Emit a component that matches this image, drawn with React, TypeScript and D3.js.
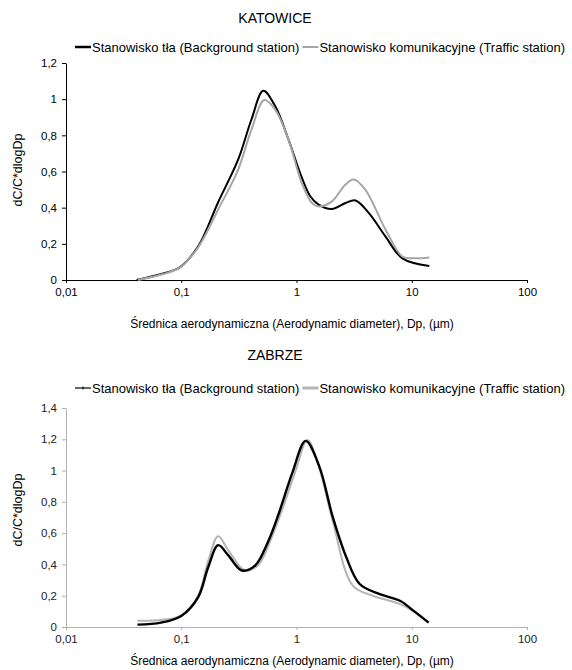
import { useEffect, useRef } from 'react';
import * as d3 from 'd3';

// Katowice – background station (black)
const katBgDp = [0.041, 0.067, 0.097, 0.14, 0.209, 0.312, 0.407, 0.515, 0.651, 0.851, 1.077, 1.316, 1.555, 2.03, 2.66, 3.25, 4.25, 5.93, 8.29, 14.2];
const katBgVal = [0, 0.033, 0.07, 0.185, 0.43, 0.667, 0.889, 1.046, 0.963, 0.778, 0.59, 0.463, 0.417, 0.393, 0.426, 0.44, 0.37, 0.24, 0.12, 0.078];
// Katowice – traffic station (grey)
const katTrDp = [0.042, 0.067, 0.097, 0.14, 0.209, 0.312, 0.407, 0.525, 0.651, 0.851, 1.11, 1.36, 1.555, 2.03, 2.66, 3.14, 3.95, 5.93, 8.29, 10.1, 14.2];
const katTrVal = [0, 0.03, 0.068, 0.18, 0.39, 0.611, 0.833, 0.995, 0.944, 0.778, 0.537, 0.426, 0.407, 0.435, 0.528, 0.556, 0.5, 0.278, 0.13, 0.12, 0.125];

// Zabrze – background station (black)
const zabBgDp = [0.0417, 0.0668, 0.1, 0.14, 0.171, 0.209, 0.256, 0.336, 0.439, 0.574, 0.703, 0.92, 1.2, 1.57, 2.06, 2.7, 3.53, 5.28, 7.91, 10.4, 14.0];
const zabBgVal = [0.015, 0.028, 0.071, 0.19, 0.38, 0.523, 0.458, 0.361, 0.394, 0.555, 0.727, 0.985, 1.19, 1.03, 0.705, 0.447, 0.275, 0.21, 0.168, 0.103, 0.028];
// Zabrze – traffic station (grey)
const zabTrDp = [0.0417, 0.0668, 0.1, 0.14, 0.171, 0.209, 0.256, 0.359, 0.47, 0.614, 0.751, 0.984, 1.245, 1.57, 2.06, 3.08, 4.61, 7.91, 10.4, 14.0];
const zabTrVal = [0.04, 0.045, 0.075, 0.2, 0.42, 0.58, 0.49, 0.361, 0.4, 0.58, 0.75, 1.0, 1.195, 1.02, 0.68, 0.265, 0.2, 0.146, 0.1, 0.028];

const xTicks = [0.01, 0.1, 1, 10, 100];
const xTickLabels = ['0,01', '0,1', '1', '10', '100'];
const legendLabels = ['Stanowisko tła (Background station)', 'Stanowisko komunikacyjne (Traffic station)'];
const xTitle = 'Średnica aerodynamiczna (Aerodynamic diameter), Dp, (\u00b5m)';
const yTitle = 'dC/C*dlogDp';

const font = 'Liberation Sans, Arial, sans-serif';

type Panel = {
  title: string;
  titleY: number;
  legendY: number;
  top: number; // y of top tick
  bottom: number; // y of zero line
  xTitleY: number;
  yTitleY: number;
  yMax: number;
  axisColor: string;
  tickTextColor: string;
  bg: [number[], number[]];
  tr: [number[], number[]];
  bgWidth: number;
  trColor: string;
  trWidth: number;
  marker: boolean;
};

const panels: Panel[] = [
  { title: 'KATOWICE', titleY: 23, legendY: 47, top: 63, bottom: 280, xTitleY: 328, yTitleY: 170, yMax: 1.2, axisColor: '#000', tickTextColor: '#000',
    bg: [katBgDp, katBgVal], tr: [katTrDp, katTrVal], bgWidth: 2, trColor: '#a6a6a6', trWidth: 2, marker: false },
  { title: 'ZABRZE', titleY: 360, legendY: 388, top: 408, bottom: 627, xTitleY: 665, yTitleY: 510, yMax: 1.4, axisColor: '#b0b0b0', tickTextColor: '#222',
    bg: [zabBgDp, zabBgVal], tr: [zabTrDp, zabTrVal], bgWidth: 2.4, trColor: '#b4b4b4', trWidth: 2, marker: true },
];

function App() {
  const svgRef = useRef<SVGSVGElement>(null);

  useEffect(() => {
    const svg = d3.select(svgRef.current);
    svg.selectAll('*').remove();
    const left = 66, right = 527;
    const x = d3.scaleLog().domain([0.01, 100]).range([left, right]);

    panels.forEach((p, pi) => {
      const y = d3.scaleLinear().domain([0, p.yMax]).range([p.bottom, p.top]);
      const g = svg.append('g').attr('font-family', font);

      // title
      g.append('text').attr('x', 275).attr('y', p.titleY)
        .attr('text-anchor', 'middle').attr('font-size', 14).text(p.title);

      // legend
      const ly = p.legendY;
      g.append('line').attr('x1', 75).attr('x2', 91).attr('y1', ly).attr('y2', ly)
        .attr('stroke', '#000').attr('stroke-width', p.marker ? 1.2 : 2.5);
      if (p.marker) {
        g.append('line').attr('x1', 83).attr('x2', 83).attr('y1', ly - 1.5).attr('y2', ly + 1.5).attr('stroke', '#000');
      }
      const t1 = g.append('text').attr('x', 92).attr('y', ly + 4.5).attr('font-size', 13).text(legendLabels[0]);
      const w1 = (t1.node() as SVGTextElement).getComputedTextLength();
      const lx = 92 + w1 + 3;
      g.append('line').attr('x1', lx).attr('x2', lx + 16).attr('y1', ly).attr('y2', ly)
        .attr('stroke', p.trColor).attr('stroke-width', p.marker ? 3 : 2);
      g.append('text').attr('x', lx + 17).attr('y', ly + 4.5).attr('font-size', 13).text(legendLabels[1]);

      // y axis
      const yAxis = d3.axisLeft(y).tickValues(d3.range(0, p.yMax + 0.001, 0.2)).tickSize(4).tickSizeOuter(0)
        .tickFormat(d => (+d === 0 ? '0' : d3.format('.1~f')(+d).replace('.', ',')));
      const ya = g.append('g').attr('transform', `translate(${left},0)`).call(yAxis);
      ya.selectAll('path,line').attr('stroke', p.axisColor);
      ya.selectAll('text').attr('font-size', 11.5).attr('font-family', font).attr('fill', p.tickTextColor).attr('x', -9);

      // x axis
      const xAxis = d3.axisBottom(x).tickValues(xTicks).tickSize(3).tickSizeOuter(0)
        .tickFormat((_, i) => xTickLabels[i]);
      const xa = g.append('g').attr('transform', `translate(0,${p.bottom})`).call(xAxis);
      xa.selectAll('path,line').attr('stroke', p.axisColor);
      xa.selectAll('text').attr('font-size', 11.5).attr('font-family', font).attr('fill', p.tickTextColor).attr('y', 8);

      // axis titles
      g.append('text').attr('x', 292).attr('y', p.xTitleY)
        .attr('text-anchor', 'middle').attr('font-size', 12).text(xTitle);
      g.append('text').attr('transform', `translate(22,${p.yTitleY}) rotate(-90)`)
        .attr('text-anchor', 'middle').attr('font-size', 12.5).text(yTitle);

      const line = d3.line<[number, number]>().x(d => x(d[0])).y(d => y(d[1])).curve(d3.curveCatmullRom.alpha(0.5));
      const trData = p.tr[0].map((d, i) => [d, p.tr[1][i]] as [number, number]);
      const bgData = p.bg[0].map((d, i) => [d, p.bg[1][i]] as [number, number]);

      if (pi === 0) {
        g.append('path').attr('d', line(bgData)).attr('fill', 'none').attr('stroke', '#000').attr('stroke-width', p.bgWidth);
        g.append('path').attr('d', line(trData)).attr('fill', 'none').attr('stroke', p.trColor).attr('stroke-width', p.trWidth);
      } else {
        g.append('path').attr('d', line(trData)).attr('fill', 'none').attr('stroke', p.trColor).attr('stroke-width', p.trWidth);
        g.append('path').attr('d', line(bgData)).attr('fill', 'none').attr('stroke', '#000').attr('stroke-width', p.bgWidth);
      }
    });
  }, []);

  return (
    <svg ref={svgRef} width={572} height={670} style={{ position: 'absolute', left: 0, top: 0, background: '#fff' }} />
  );
}

export default App;
